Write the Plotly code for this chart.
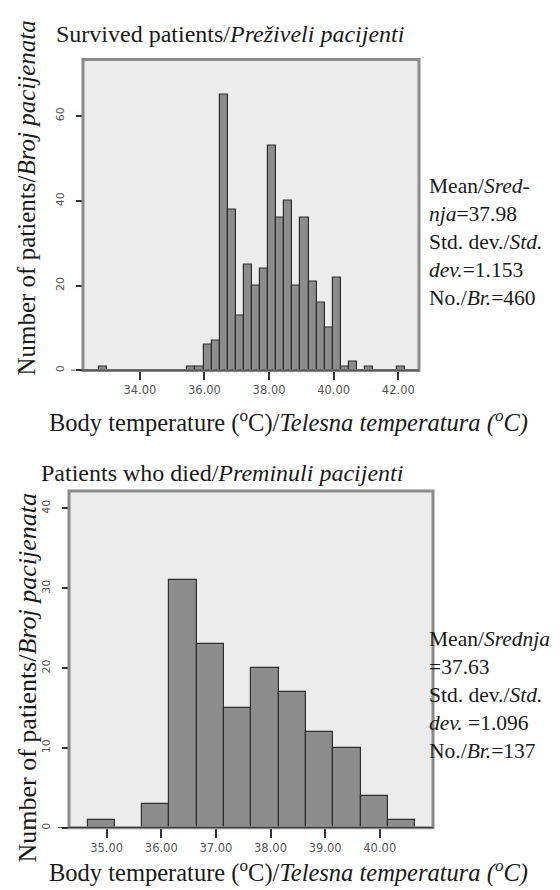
import plotly.graph_objects as go

# ---------------- data ----------------
# Survived patients: bin centres (bin width 0.25 °C) and counts
survived_centers = [32.845, 35.595, 35.845, 36.095, 36.345, 36.595, 36.845, 37.095,
                    37.345, 37.595, 37.845, 38.095, 38.345, 38.595, 38.845, 39.095,
                    39.345, 39.595, 39.845, 40.095, 40.345, 40.595, 41.095, 42.095]
survived_counts = [1, 1, 1, 6, 7, 65, 38, 13,
                   25, 20, 24, 53, 36, 40, 20, 36,
                   21, 16, 10, 22, 1, 2, 1, 1]
survived_bin_width = 0.25

# Patients who died: bin centres (bin width 0.5 °C) and counts
died_centers = [34.9, 35.9, 36.4, 36.9, 37.4, 37.9, 38.4, 38.9, 39.4, 39.9, 40.4]
died_counts = [1, 3, 31, 23, 15, 20, 17, 12, 10, 4, 1]
died_bin_width = 0.5

top_xticks = [34, 36, 38, 40, 42]
bottom_xticks = [35, 36, 37, 38, 39, 40]
top_yticks = [0, 20, 40, 60]
bottom_yticks = [0, 10, 20, 30, 40]

top_stats = "Mean/<i>Sred-</i><br><i>nja</i>=37.98<br>Std. dev./<i>Std.</i><br><i>dev.</i>=1.153<br>No./<i>Br.</i>=460"
bottom_stats = "Mean/<i>Srednja</i><br>=37.63<br>Std. dev./<i>Std.</i><br><i>dev.</i> =1.096<br>No./<i>Br.</i>=137"

# ---------------- figure ----------------
W, H = 560, 890
def px(x):
    return x / W
def py(y):
    return 1 - y / H

BAR_FILL = "#8d8d8d"
BAR_LINE = "#2e2e2e"
SERIF = "Liberation Serif"
TICKFONT = dict(family="DejaVu Sans", size=11.5, color="#555555")

fig = go.Figure()
fig.add_trace(go.Bar(x=survived_centers, y=survived_counts, width=survived_bin_width,
                     marker=dict(color=BAR_FILL, line=dict(color=BAR_LINE, width=1.2)),
                     xaxis="x", yaxis="y", showlegend=False))
fig.add_trace(go.Bar(x=died_centers, y=died_counts, width=died_bin_width,
                     marker=dict(color=BAR_FILL, line=dict(color=BAR_LINE, width=1.2)),
                     xaxis="x2", yaxis="y2", showlegend=False))

xcommon = dict(showgrid=False, zeroline=False, showline=False, ticks="outside",
               ticklen=9, tickwidth=1.5, tickcolor="#333333", tickfont=TICKFONT,
               tickformat=".2f", ticklabelstandoff=0)
ycommon = dict(showgrid=False, zeroline=False, showline=False, ticks="outside",
               ticklen=6, tickwidth=1.5, tickcolor="#333333",
               tickfont=dict(family="DejaVu Sans", size=11, color="#555555"),
               tickangle=-90, ticklabelstandoff=8)

fig.update_layout(
    width=W, height=H,
    margin=dict(l=0, r=0, t=0, b=0),
    paper_bgcolor="white",
    plot_bgcolor="#ececec",
    bargap=0,
    xaxis=dict(domain=[px(75), px(411)], range=[32.24, 42.64], anchor="y",
               tickvals=top_xticks, **xcommon),
    yaxis=dict(domain=[py(363.3), py(51.7)], range=[0, 73.3], anchor="x",
               tickvals=top_yticks, **ycommon),
    xaxis2=dict(domain=[px(61), px(425)], range=[34.31, 40.975], anchor="y2",
                tickvals=bottom_xticks, **xcommon),
    yaxis2=dict(domain=[py(821.7), py(484)], range=[0, 42.2], anchor="x2",
                tickvals=bottom_yticks, **ycommon),
)

# frames and baselines
for xa, ya, x0 in (("x", "y", -0.036), ("x2", "y2", -0.03)):
    fig.add_shape(type="rect", xref=f"{xa} domain", yref=f"{ya} domain",
                  x0=0, x1=1, y0=0, y1=1, line=dict(color="#8a8a8a", width=3),
                  fillcolor="rgba(0,0,0,0)", layer="above")
    fig.add_shape(type="line", xref=f"{xa} domain", yref=ya,
                  x0=x0, x1=1, y0=0, y1=0, line=dict(color="#222222", width=1.5),
                  layer="above")

ann = []
# titles
ann.append(dict(text="Survived patients/<i>Preživeli pacijenti</i>", x=px(46), y=py(26),
                xanchor="left", yanchor="middle", font=dict(family=SERIF, size=24, color="#1a1a1a")))
ann.append(dict(text="Patients who died/<i>Preminuli pacijenti</i>", x=px(31), y=py(466),
                xanchor="left", yanchor="middle", font=dict(family=SERIF, size=24, color="#1a1a1a")))
# x-axis titles
xt = "Body temperature (<sup>o</sup>C)/<i>Telesna temperatura (<sup>o</sup>C)</i>"
ann.append(dict(text=xt, x=px(280), y=py(414), xanchor="center", yanchor="middle",
                font=dict(family=SERIF, size=24.5, color="#1a1a1a")))
ann.append(dict(text=xt, x=px(280), y=py(865), xanchor="center", yanchor="middle",
                font=dict(family=SERIF, size=24.5, color="#1a1a1a")))
# y-axis titles
yt = "Number of patients/<i>Broj pacijenata</i>"
ann.append(dict(text=yt, x=px(19), y=py(191), xanchor="center", yanchor="middle", textangle=-90,
                font=dict(family=SERIF, size=25, color="#1a1a1a")))
ann.append(dict(text=yt, x=px(19), y=py(672), xanchor="center", yanchor="middle", textangle=-90,
                font=dict(family=SERIF, size=26, color="#1a1a1a")))
# stats
ann.append(dict(text=top_stats, x=px(419), y=py(235), xanchor="left", yanchor="middle", align="left",
                font=dict(family=SERIF, size=21.5, color="#1a1a1a")))
ann.append(dict(text=bottom_stats, x=px(419), y=py(689), xanchor="left", yanchor="middle", align="left",
                font=dict(family=SERIF, size=21.5, color="#1a1a1a")))

for a in ann:
    a.update(xref="paper", yref="paper", showarrow=False)
fig.update_layout(annotations=ann)

fig.write_html("out.html", config={"displayModeBar": False})
